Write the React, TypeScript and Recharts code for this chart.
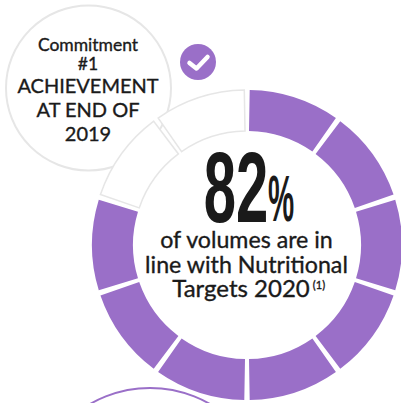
import { Cell, Pie, PieChart } from 'recharts';

const segments = ['s1', 's2', 's3', 's4', 's5', 's6', 's7', 's8', 's9', 's10'];
const segmentValues = [10, 10, 10, 10, 10, 10, 10, 10, 10, 10];
const achieved = [true, true, true, true, true, true, true, true, false, false];
const commitmentLines = ['Commitment', '#1'];
const achievementLines = ['ACHIEVEMENT', 'AT END OF', '2019'];
const headline = '82';
const captionLines = ['of volumes are in', 'line with Nutritional', 'Targets 2020'];

const PURPLE = '#9a6fc8';
const INK = '#1a1a1a';
const FONT = 'Lato, "Noto Sans", sans-serif';

const data = segments.map((name, i) => ({ name, value: segmentValues[i] }));

export default function App() {
  return (
    <div style={{ position: 'absolute', left: 0, top: 0, width: 401, height: 403, overflow: 'hidden', background: '#fff', fontFamily: FONT }}>
      <svg width={401} height={403} style={{ position: 'absolute', left: 0, top: 0 }}>
        <circle cx={88.5} cy={88} r={82.5} fill="#fff" stroke="#e6e6e6" strokeWidth={2} />
        <circle cx={198} cy={62} r={18} fill={PURPLE} />
        <path d="M189.5 63 L196.5 68.5 L207.5 57" fill="none" stroke="#fff" strokeWidth={4.5} strokeLinecap="round" strokeLinejoin="round" />
      </svg>

      <div style={{ position: 'absolute', left: 0, top: 0 }}>
        <PieChart width={401} height={403} margin={{ top: 0, right: 0, bottom: 0, left: 0 }}>
          <Pie
            data={data}
            dataKey="value"
            nameKey="name"
            cx={247}
            cy={245}
            innerRadius={114}
            outerRadius={155}
            startAngle={89}
            endAngle={-271}
            paddingAngle={2}
            isAnimationActive={false}
          >
            {data.map((d, i) => (
              <Cell
                key={d.name}
                fill={achieved[i] ? PURPLE : '#fff'}
                stroke={achieved[i] ? 'none' : '#e6e6e6'}
                strokeWidth={achieved[i] ? 0 : 1.5}
              />
            ))}
          </Pie>
        </PieChart>
      </div>

      <svg width={401} height={403} style={{ position: 'absolute', left: 0, top: 0 }}>
        <circle cx={150} cy={508} r={120} fill="#fff" stroke={PURPLE} strokeWidth={2} />
        <g fill={INK} stroke={INK} strokeWidth={0.35} textAnchor="middle">
          {commitmentLines.map((t, i) => (
            <text key={t} x={88} y={51 + i * 19} fontSize={17.5}>{t}</text>
          ))}
          {achievementLines.map((t, i) => (
            <text key={t} x={88} y={93 + i * 24} fontSize={20}>{t}</text>
          ))}
          {captionLines.map((t, i) => (
            <text key={t} x={i === 2 ? 241 : 246.5} y={248 + i * 24.5} fontSize={i === 2 ? 24 : 23.2}>{t}</text>
          ))}
          <text x={319} y={289} fontSize={11}>(1)</text>
        </g>
        <g fill={INK} fontFamily='"Liberation Sans", sans-serif' fontWeight={700} textAnchor="middle">
          <text transform="translate(236 221.5) scale(0.58 1)" fontSize={100}>{headline}</text>
          <text transform="translate(281 221) scale(0.46 1)" fontSize={64}>%</text>
        </g>
      </svg>
    </div>
  );
}
